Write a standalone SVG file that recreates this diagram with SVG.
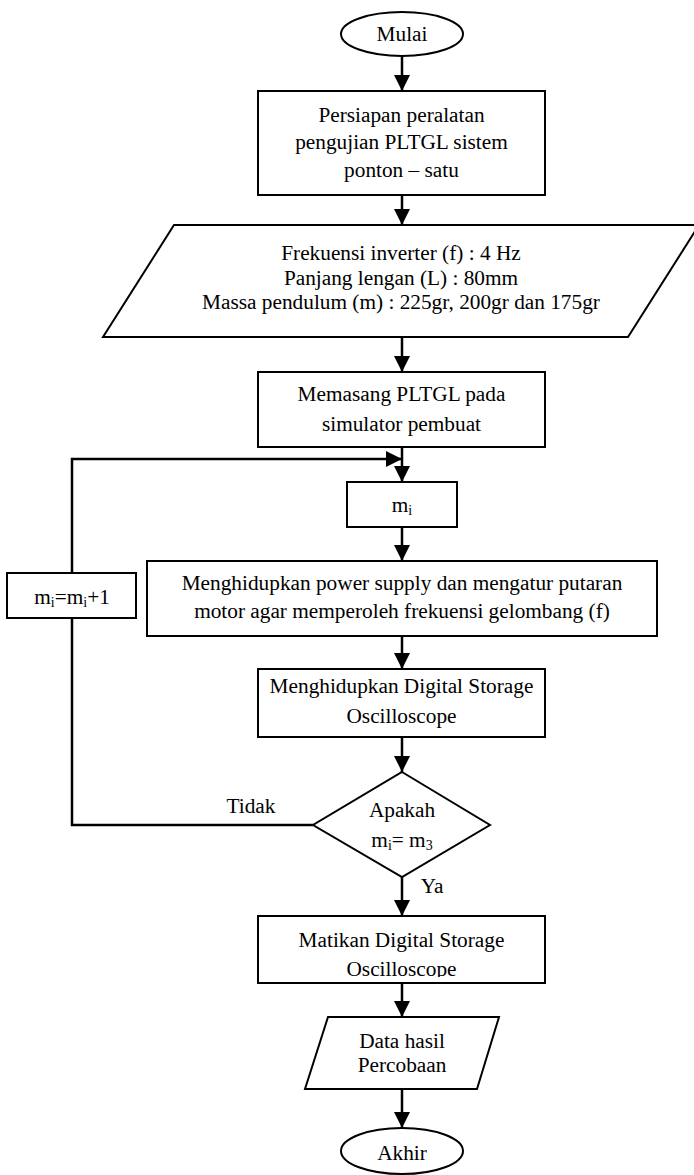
<svg xmlns="http://www.w3.org/2000/svg" width="694" height="1175" viewBox="0 0 694 1175">
<style>
.s{fill:#fff;stroke:#000;stroke-width:2}
.c{fill:none;stroke:#000;stroke-width:2.5}
.t{font-family:"Liberation Serif","Times New Roman",serif;font-size:21.3px;fill:#000;text-anchor:middle}
.sub{font-size:14px}
</style>
<defs>
<marker id="ah" markerUnits="userSpaceOnUse" markerWidth="16" markerHeight="16" refX="16" refY="8" orient="auto">
<path d="M0,0 L16,8 L0,16 z" fill="#000"/>
</marker>
<clipPath id="clipM"><rect x="258" y="916" width="287" height="61"/></clipPath>
</defs>
<rect width="694" height="1175" fill="#fff"/>
<g id="connectors">
<line class="c" x1="402" y1="56" x2="402" y2="91" marker-end="url(#ah)"/>
<line class="c" x1="402" y1="195" x2="402" y2="225" marker-end="url(#ah)"/>
<line class="c" x1="402" y1="337" x2="402" y2="372" marker-end="url(#ah)"/>
<line class="c" x1="402" y1="447" x2="402" y2="482" marker-end="url(#ah)"/>
<polyline class="c" points="313,825 72,825 72,618"/>
<polyline class="c" points="72,573 72,459 402,459" marker-end="url(#ah)"/>
<line class="c" x1="402" y1="527" x2="402" y2="561" marker-end="url(#ah)"/>
<line class="c" x1="402" y1="636" x2="402" y2="669" marker-end="url(#ah)"/>
<line class="c" x1="402" y1="737" x2="402" y2="772" marker-end="url(#ah)"/>
<line class="c" x1="402" y1="877" x2="402" y2="916" marker-end="url(#ah)"/>
<line class="c" x1="402" y1="983" x2="402" y2="1017" marker-end="url(#ah)"/>
<line class="c" x1="402" y1="1089" x2="402" y2="1128" marker-end="url(#ah)"/>
<text class="t" x="251" y="813">Tidak</text>
<text class="t" x="432" y="893">Ya</text>
</g>
<g id="mulai">
<ellipse class="s" cx="402" cy="34" rx="61" ry="22"/>
<text class="t" x="402" y="41">Mulai</text>
</g>
<g id="persiapan">
<rect class="s" x="258" y="91" width="287" height="104"/>
<text class="t" x="401.5" y="122">Persiapan peralatan</text>
<text class="t" x="401.5" y="149">pengujian PLTGL sistem</text>
<text class="t" x="401.5" y="177">ponton – satu</text>
</g>
<g id="input">
<polygon class="s" points="174,225 699,225 628,337 103,337"/>
<text class="t" x="401" y="260">Frekuensi inverter (f) : 4 Hz</text>
<text class="t" x="401" y="285">Panjang lengan (L) : 80mm</text>
<text class="t" x="401" y="309">Massa pendulum (m) : 225gr, 200gr dan 175gr</text>
</g>
<g id="memasang">
<rect class="s" x="258" y="372" width="287" height="75"/>
<text class="t" x="401.5" y="401">Memasang PLTGL pada</text>
<text class="t" x="401.5" y="431">simulator pembuat</text>
</g>
<g id="mi">
<rect class="s" x="347" y="482" width="110" height="45"/>
<text class="t" x="402" y="512">m<tspan class="sub" dy="3">i</tspan></text>
</g>
<g id="increment">
<rect class="s" x="7" y="573" width="129" height="45"/>
<text class="t" x="72" y="604">m<tspan class="sub" dy="3">i</tspan><tspan dy="-3">=m</tspan><tspan class="sub" dy="3">i</tspan><tspan dy="-3">+1</tspan></text>
</g>
<g id="power">
<rect class="s" x="147" y="561" width="510" height="75"/>
<text class="t" x="402" y="590">Menghidupkan power supply dan mengatur putaran</text>
<text class="t" x="402" y="618">motor agar memperoleh frekuensi gelombang (f)</text>
</g>
<g id="dso-on">
<rect class="s" x="258" y="669" width="287" height="68"/>
<text class="t" x="401.5" y="693">Menghidupkan Digital Storage</text>
<text class="t" x="401.5" y="723">Oscilloscope</text>
</g>
<g id="decision">
<polygon class="s" points="402,772 490,825 402,877 313,825"/>
<text class="t" x="402" y="817">Apakah</text>
<text class="t" x="402" y="847">m<tspan class="sub" dy="3">i</tspan><tspan dy="-3">= m</tspan><tspan class="sub" dy="3">3</tspan></text>
</g>
<g id="dso-off">
<rect class="s" x="258" y="916" width="287" height="67"/>
<text class="t" x="401.5" y="947">Matikan Digital Storage</text>
<text class="t" x="401.5" y="976" clip-path="url(#clipM)">Oscilloscope</text>
</g>
<g id="output">
<polygon class="s" points="328,1017 499,1017 477,1089 305,1089"/>
<text class="t" x="402" y="1048">Data hasil</text>
<text class="t" x="402" y="1072">Percobaan</text>
</g>
<g id="akhir">
<ellipse class="s" cx="402" cy="1151" rx="61" ry="23"/>
<text class="t" x="402" y="1160">Akhir</text>
</g>
</svg>
